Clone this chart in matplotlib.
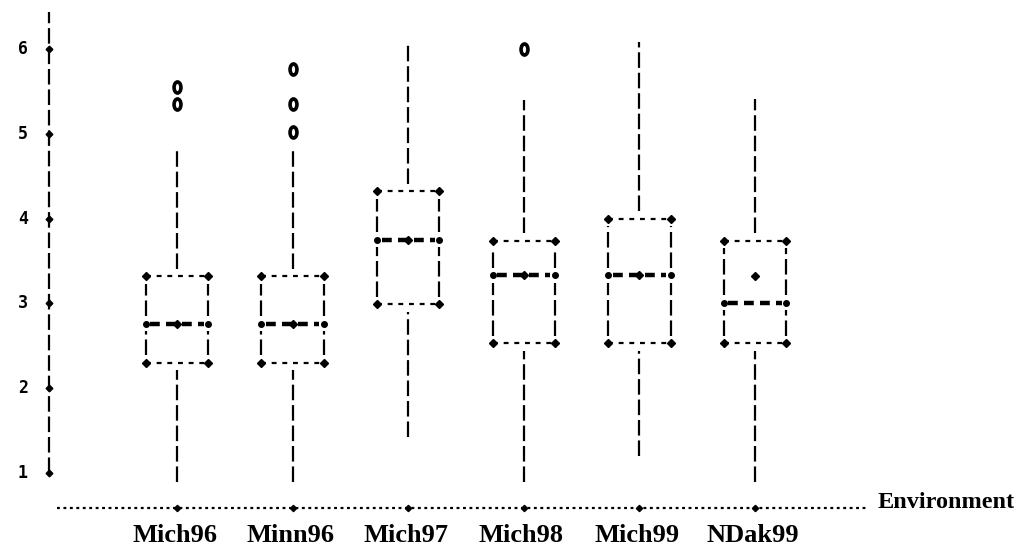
import matplotlib
matplotlib.use("Agg")
import matplotlib.pyplot as plt
from matplotlib.path import Path
import numpy as np

# ---- data ----
environments = ["Mich96", "Minn96", "Mich97", "Mich98", "Mich99", "NDak99"]
whisker_low  = [0.89, 0.89, 1.43, 0.89, 1.20, 0.89]
q1           = [2.30, 2.30, 2.99, 2.53, 2.53, 2.53]
medians      = [2.76, 2.76, 3.75, 3.33, 3.33, 3.01]
means        = [2.76, 2.76, 3.75, 3.33, 3.33, 3.32]
q3           = [3.32, 3.32, 4.32, 3.74, 4.00, 3.74]
whisker_high = [4.83, 4.83, 6.08, 5.40, 6.08, 5.41]
outliers = {
    "Mich96": [5.35, 5.55],
    "Minn96": [5.02, 5.35, 5.76],
    "Mich98": [6.00],
}
y_ticks = [1, 2, 3, 4, 5, 6]
x_label = "Environment"

# ---- layout ----
W, H = 1025, 547
fig = plt.figure(figsize=(W / 100, H / 100), dpi=100)
ax = fig.add_axes([0, 0, 1, 1])
ax.set_xlim(-0.531, 8.336)
ax.set_ylim(0.127, 6.578)
ax.axis("off")

K = "black"
half = 0.27
gap = 0.09
dash_v = (0, (7, 2.2))
dot_h = (0, (2.2, 2.6))

# oval marker for outliers (printed "0")
circ = Path.unit_circle()
oval = Path(circ.vertices * np.array([0.62, 1.0]), circ.codes)

# y axis
ax.plot([-0.107, -0.107], [1.0, 6.44], color=K, lw=1.6, linestyle=dash_v)
ax.plot([-0.107] * len(y_ticks), y_ticks, "D", color=K, ms=3.4)
for t in y_ticks:
    ax.text(-0.29, t, str(t), ha="right", va="center", fontsize=12,
            family="DejaVu Sans Mono", fontweight="bold")

# x axis
xs = list(range(1, len(environments) + 1))
ax.plot([-0.038, 6.98], [0.587, 0.587], color=K, lw=1.6, linestyle=(0, (1.3, 1.6)))
ax.plot(xs, [0.587] * len(xs), "D", color=K, ms=3.2)
for x, name in zip(xs, environments):
    ax.text(x - 0.02, 0.19, name, ha="center", va="baseline", fontsize=19,
            family="Liberation Serif", fontweight="bold")
ax.text(7.06, 0.587, x_label, ha="left", va="baseline", fontsize=17.5,
        family="Liberation Serif", fontweight="bold")

for i, name in enumerate(environments):
    c = xs[i]
    lo, a, m, mu, b, hi = whisker_low[i], q1[i], medians[i], means[i], q3[i], whisker_high[i]
    # whiskers
    ax.plot([c, c], [b + gap, hi], color=K, lw=1.6, linestyle=dash_v)
    ax.plot([c, c], [lo, a - gap], color=K, lw=1.6, linestyle=dash_v)
    # box edges (Q1, Q3)
    for q in (a, b):
        ax.plot([c - half, c + half], [q, q], color=K, lw=1.6, linestyle=dot_h)
        ax.plot([c - half, c + half], [q, q], "D", color=K, ms=4)
    # box sides
    for sx in (c - half, c + half):
        ax.plot([sx, sx], [a + gap, m - gap], color=K, lw=1.6, linestyle=dash_v)
        ax.plot([sx, sx], [m + gap, b - gap], color=K, lw=1.6, linestyle=dash_v)
    # median
    ax.plot([c - half + 0.04, c + half - 0.04], [m, m], color=K, lw=3.2,
            linestyle=(0, (2.2, 1.4)))
    ax.plot([c - half, c + half], [m, m], "o", color=K, ms=4)
    # mean
    ax.plot([c], [mu], "D", color=K, ms=4.5)
    # outliers
    for o in outliers.get(name, []):
        ax.plot([c], [o], marker=oval, mfc="white", mec=K, mew=2.6, ms=8,
                linestyle="none")

fig.savefig("out.png", dpi=100)
